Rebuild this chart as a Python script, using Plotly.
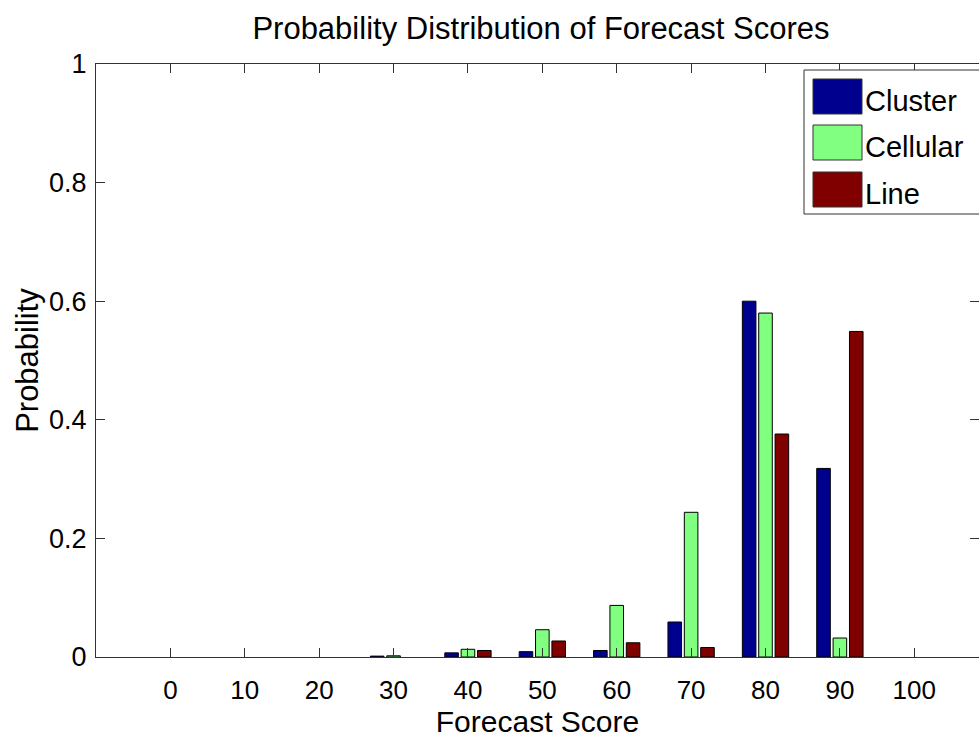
import plotly.graph_objects as go

scores = [0, 10, 20, 30, 40, 50, 60, 70, 80, 90, 100]
series_names = ["Cluster", "Cellular", "Line"]
cluster = [0, 0, 0, 0.0015, 0.007, 0.009, 0.011, 0.059, 0.600, 0.318, 0]
cellular = [0, 0, 0, 0.002, 0.013, 0.046, 0.087, 0.244, 0.580, 0.032, 0]
line = [0, 0, 0, 0, 0.011, 0.027, 0.024, 0.016, 0.376, 0.549, 0]
colors = ["#00008F", "#80FF80", "#800000"]
x_ticks = [0, 10, 20, 30, 40, 50, 60, 70, 80, 90, 100]
y_ticks = [0, 0.2, 0.4, 0.6, 0.8, 1]
y_tick_labels = ["0", "0.2", "0.4", "0.6", "0.8", "1"]

W, H = 979, 741
L, R, T, B = 96, 0, 64, 84
FONT = "Liberation Sans, Arial, Helvetica, sans-serif"

fig = go.Figure()
for name, vals, col in zip(series_names, [cluster, cellular, line], colors):
    fig.add_trace(go.Bar(x=scores, y=vals, name=name,
                         marker=dict(color=col, line=dict(color="black", width=[1 if v > 0 else 0 for v in vals])),
                         showlegend=False))

fig.update_layout(
    width=W, height=H,
    margin=dict(l=L, r=R, t=T, b=B),
    paper_bgcolor="white", plot_bgcolor="white",
    barmode="group", bargap=0.34, bargroupgap=0.17,
    font=dict(family=FONT, color="black", size=27),
    title=dict(text="Probability Distribution of Forecast Scores", x=0.5526, xanchor="center",
               y=1 - 28 / H, yanchor="middle", font=dict(size=31, family=FONT)),
    xaxis=dict(range=[-10, 108.7], tickmode="array", tickvals=x_ticks, ticks="inside", ticklen=9,
               tickcolor="#333333", showline=True, linecolor="#333333", linewidth=1, mirror="ticks",
               showgrid=False, zeroline=False, ticklabelstandoff=10,
               tickfont=dict(size=26),
               title=dict(text="Forecast Score", standoff=2, font=dict(size=30))),
    yaxis=dict(range=[0, 1], tickmode="array", tickvals=y_ticks, ticktext=y_tick_labels, ticks="inside",
               ticklen=9, tickcolor="#333333", showline=True, linecolor="#333333", linewidth=1, mirror="ticks",
               showgrid=False, zeroline=False, ticklabelstandoff=3, tickfont=dict(size=27),
               title=dict(text="Probability", standoff=1, font=dict(size=31))),
)

pw, ph = W - L - R, H - T - B
def px(x):
    return (x - L) / pw
def py(y):
    return (H - B - y) / ph

# legend box
fig.add_shape(type="rect", xref="paper", yref="paper", x0=px(804), x1=px(990), y0=py(214), y1=py(70),
              line=dict(color="#333333", width=1), fillcolor="white", layer="above")
sw_top = [79, 125, 172]
for i, (name, col) in enumerate(zip(series_names, colors)):
    y0, y1 = sw_top[i], sw_top[i] + 35
    fig.add_shape(type="rect", xref="paper", yref="paper", x0=px(813), x1=px(862), y0=py(y1), y1=py(y0),
                  line=dict(color="#333333", width=1), fillcolor=col, layer="above")
    fig.add_annotation(xref="paper", yref="paper", x=px(863), y=py((y0 + y1) / 2 + 4), text=name, showarrow=False,
                       xanchor="left", yanchor="middle", font=dict(size=29, family=FONT, color="black"))

fig.write_html("out.html", config={"displayModeBar": False},
               post_script="document.body.style.margin='0';document.body.style.overflow='hidden';")
